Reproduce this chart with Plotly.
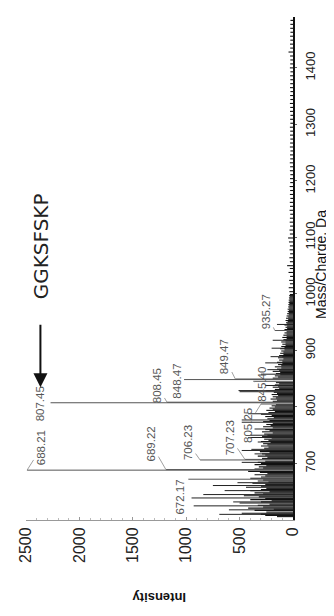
import plotly.graph_objects as go

# ---------------- data ----------------
# labelled peaks
label_mz = [688.21, 807.45, 672.17, 689.22, 706.23, 707.23, 805.25, 808.45, 848.47, 849.47, 845.40, 935.27]
label_int = [2490, 2270, 980, 1190, 870, 450, 300, 1180, 1020, 540, 370, 170]

# other prominent peaks
major_mz = [610, 618, 625, 632, 639, 645, 652, 661, 666, 702, 717, 723, 725, 738, 746, 750, 761, 773, 777, 787, 788, 827, 829, 838, 858, 866, 878, 889, 904, 918, 946]
major_int = [690, 600, 930, 560, 950, 840, 640, 750, 520, 480, 360, 480, 390, 330, 420, 400, 360, 480, 480, 300, 420, 500, 510, 260, 300, 240, 260, 210, 200, 190, 150]

# dense low-level signal
grass_mz = [606, 608, 610, 612, 614, 617, 619, 621, 623, 626, 628, 630, 632, 634, 636, 638, 641, 643,
            646, 648, 650, 652, 654, 656, 658, 660, 663, 665, 667, 669, 671, 674, 676, 678, 680, 682,
            684, 686, 690, 692, 694, 696, 698, 700, 702, 704, 709, 711, 713, 715, 717, 719, 721, 723,
            727, 729, 731, 733, 735, 737, 739, 741, 743, 745, 748, 750, 752, 754, 756, 758, 760, 763,
            765, 767, 769, 771, 774, 776, 779, 781, 783, 785, 790, 792, 794, 796, 798, 800, 802, 804,
            810, 812, 814, 816, 818, 820, 822, 824, 826, 831, 833, 835, 837, 839, 841, 843, 851, 853,
            855, 857, 859, 861, 863, 865, 867, 869, 871, 873, 875, 877, 879, 881, 883, 885, 887, 889,
            891, 893, 895, 897, 899, 901, 903, 905, 907, 909, 911, 913, 915, 917, 919, 921, 923, 925,
            927, 929, 931, 933, 937, 939, 941, 943, 945, 947, 949, 951, 953, 955, 957, 959, 961, 963,
            965, 967, 969, 971, 973, 975, 977, 979, 981, 983, 985, 987, 989, 991, 993, 995, 997, 999,
            1004, 1011, 1018, 1024, 1031, 1038, 1045, 1050, 1057, 1064, 1071, 1078, 1085, 1092, 1099,
            1106, 1113, 1120, 1127, 1134, 1141, 1148, 1155, 1162, 1169, 1176, 1183, 1190, 1197, 1204,
            1211, 1218, 1225, 1232, 1239, 1246, 1253, 1260, 1267, 1274, 1281, 1288, 1295, 1302, 1309,
            1316, 1323, 1330, 1337, 1344, 1351, 1358, 1365, 1372, 1379, 1386, 1393, 1400, 1407, 1414,
            1421, 1428, 1435, 1442, 1449, 1456, 1463, 1470, 1477, 1484]
grass_int = [150, 260, 300, 480, 250, 360, 180, 420, 280, 330, 220, 500, 300, 200, 400, 260, 320, 460,
             280, 360, 220, 400, 300, 250, 440, 300, 260, 380, 230, 330, 280, 400, 300, 260, 360, 240,
             310, 420, 360, 280, 320, 250, 360, 300, 330, 260, 290, 240, 330, 260, 290, 220, 310, 250,
             270, 230, 300, 240, 280, 210, 300, 230, 270, 200, 290, 240, 270, 190, 290, 220, 260, 190,
             280, 210, 250, 190, 280, 220, 240, 180, 260, 200, 230, 170, 250, 190, 220, 170, 200, 160,
             190, 150, 210, 160, 190, 140, 200, 150, 180, 170, 130, 190, 140, 170, 130, 160, 190, 140,
             170, 120, 160, 120, 190, 130, 150, 110, 170, 110, 140, 100, 150, 100, 130, 90, 140, 100,
             130, 90, 120, 90, 110, 80, 120, 80, 110, 70, 100, 70, 110, 70, 90, 60, 100, 60,
             90, 60, 80, 60, 80, 55, 70, 55, 80, 55, 65, 50, 70, 45, 65, 45, 60, 40,
             55, 40, 50, 38, 50, 36, 45, 35, 44, 34, 42, 33, 40, 32, 38, 30, 36, 29,
             34, 40, 29, 36, 27, 42, 30, 55, 29, 34, 27, 32, 29, 38, 46,
             29, 33, 27, 31, 29, 26, 32, 28, 30, 25, 29, 27, 31, 26, 28,
             25, 29, 27, 30, 26, 28, 24, 29, 27, 25, 28, 26, 29, 25, 27,
             24, 28, 26, 29, 25, 27, 24, 28, 26, 25, 27, 24, 29, 26, 25,
             27, 42, 26, 28, 25, 27, 24, 26, 25, 24]

# axis ticks
int_ticks = [0, 500, 1000, 1500, 2000, 2500]
mz_ticks = [700, 800, 900, 1000, 1100, 1200, 1300, 1400]

# label placement (pixel offsets from peak top; leader line drawn when True)
label_dx = [14, -11, -8, -15, -12, -15, -13, -10, -7, -11, 9, -9]
label_dy = [-22, 1, 18, -26, -17, -22, 21, -17, 2, -22, 3, -19]
label_leader = [True, False, False, True, True, True, True, True, False, True, True, True]


def sticks(mz, inten):
    xs, ys = [], []
    for m, i in zip(mz, inten):
        xs += [0, i, None]
        ys += [m, m, None]
    return xs, ys


fig = go.Figure()
gx, gy = sticks(grass_mz, grass_int)
fig.add_trace(go.Scatter(x=gx, y=gy, mode="lines", line=dict(color="#111", width=1.1),
                         hoverinfo="skip", showlegend=False))
mx, my = sticks(major_mz, major_int)
fig.add_trace(go.Scatter(x=mx, y=my, mode="lines", line=dict(color="#222", width=1),
                         hoverinfo="skip", showlegend=False))
lx, ly = sticks(label_mz, label_int)
fig.add_trace(go.Scatter(x=lx, y=ly, mode="lines", line=dict(color="#555", width=1),
                         hoverinfo="skip", showlegend=False))

annotations = []
for m, i, dx, dy, ld in zip(label_mz, label_int, label_dx, label_dy, label_leader):
    a = dict(x=i, y=m, xref="x", yref="y", text=f"{m:.2f}", textangle=-90,
             font=dict(family="Liberation Sans, Arial", size=11.5, color="#555"))
    if ld:
        a.update(showarrow=True, ax=dx, ay=dy, arrowhead=0, arrowwidth=0.8,
                 arrowcolor="#888", standoff=0, startstandoff=0)
    else:
        a.update(showarrow=False, xshift=dx, yshift=-dy, xanchor="center", yanchor="middle")
    annotations.append(a)

# axis titles and peptide annotation
annotations.append(dict(text="Mass/Charge, Da", x=1.105, y=0.507, xref="paper", yref="paper",
                        xanchor="center", yanchor="middle",
                        showarrow=False, textangle=-90,
                        font=dict(family="Liberation Sans, Arial", size=14, color="#111")))
annotations.append(dict(text="<b>Intensity</b>", x=0.50, y=-0.153, xref="paper", yref="paper",
                        xanchor="center", yanchor="middle",
                        showarrow=False, textangle=180,
                        font=dict(family="Liberation Sans, Arial", size=13, color="#111")))
annotations.append(dict(text="GGKSFSKP", x=0.054, y=0.545, xref="paper", yref="paper",
                        xanchor="center", yanchor="middle",
                        showarrow=False, textangle=-90,
                        font=dict(family="DejaVu Sans", size=20, color="#222")))
annotations.append(dict(text="", x=0.054, y=0.264, xref="paper", yref="paper",
                        showarrow=True, ax=0, ay=-64, arrowhead=2, arrowsize=1.4,
                        arrowwidth=2, arrowcolor="#111", standoff=0))

fig.update_layout(
    width=326, height=600,
    margin=dict(l=9, r=41, t=9, b=88),
    paper_bgcolor="white", plot_bgcolor="white",
    annotations=annotations,
    xaxis=dict(range=[2500, 0], tickvals=int_ticks, ticktext=[str(v) for v in int_ticks],
               tickangle=-90, showgrid=False, zeroline=False, showline=True,
               linecolor="#999", linewidth=1, ticks="inside", ticklen=3, tickcolor="#999",
               minor=dict(dtick=100, ticks="inside", ticklen=2, tickcolor="#bbb"),
               tickfont=dict(family="Liberation Sans, Arial", size=16, color="#222")),
    yaxis=dict(range=[600, 1490], side="right", tickvals=mz_ticks,
               ticktext=[str(v) for v in mz_ticks], tickangle=-90, showgrid=False,
               zeroline=False, showline=True, linecolor="#111", linewidth=1.5,
               ticks="outside", ticklen=2, tickcolor="#666", ticklabelstandoff=3,
               tickfont=dict(family="Liberation Sans, Arial", size=13, color="#222")),
)

fig.write_html("out.html")
